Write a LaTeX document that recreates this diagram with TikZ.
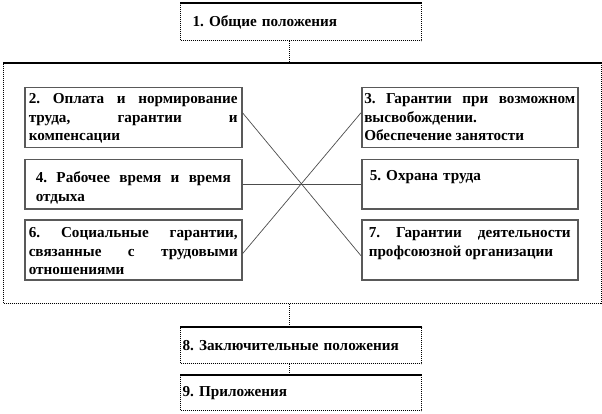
\documentclass[tikz,border=0pt]{standalone}
\usepackage{fontspec}
\setmainfont{Liberation Serif}
\usepackage{tikz}
\usetikzlibrary{positioning, calc}
\frenchspacing

\tikzset{
  txt/.style={font=\fontsize{15.2}{18.5}\selectfont\bfseries},
  outer/.style={txt, draw=black, line width=1.2pt, dash pattern=on 1pt off 1pt,
                anchor=north west, inner ysep=0pt, align=left},
  part/.style={txt, draw=black!65, line width=1.5pt, anchor=north west,
               inner ysep=4pt, minimum width=217pt},
  link/.style={line width=0.8pt, dash pattern=on 1pt off 1pt},
  cross/.style={draw=black!70, line width=0.7pt},
}

\begin{document}
\begin{tikzpicture}[x=1pt,y=-1pt]
\useasboundingbox (0,0) rectangle (602,414);

% --- TOP ---
\node[outer, minimum width=241pt, minimum height=37pt, text width=217pt,
      inner xsep=12pt] (b1) at (180,3) {1. Общие положения};

% --- FRAME ---
\node[outer, minimum width=598pt, minimum height=240pt] (frame) at (3,63) {};

% --- LEFT COLUMN ---
\node[part, text width=209pt, inner xsep=4pt, text height=12pt, text depth=40pt,
      align=justify] (b2) at (24,87)
  {2. Оплата и нормирование\linebreak труда, гарантии и\linebreak компенсации};
\node[part, text width=195pt, inner xsep=11pt, text height=19pt, text depth=22pt,
      align=justify] (b4) at (24,159)
  {4. Рабочее время и время\linebreak отдыха};
\node[part, text width=209pt, inner xsep=4pt, text height=14pt, text depth=38pt,
      align=justify] (b6) at (24,219)
  {6. Социальные гарантии,\linebreak связанные с трудовыми\linebreak отношениями};

% --- RIGHT COLUMN ---
\node[part, minimum width=216pt, text width=211pt, inner xsep=2.5pt, text height=12pt,
      text depth=40pt, align=justify] (b3) at (361,87)
  {3. Гарантии при возможном\linebreak высвобождении.\\ Обеспечение занятости};
\node[part, minimum width=216pt, text width=200pt, inner xsep=8pt, text height=17pt,
      text depth=24pt, align=left] (b5) at (361,159)
  {5. Охрана труда};
\node[part, minimum width=216pt, text width=202pt, inner xsep=7pt, text height=14pt,
      text depth=38pt, align=justify] (b7) at (361,219)
  {7. Гарантии деятельности\linebreak профсоюзной организации};

% --- CROSS LINES ---
\draw[cross] ([yshift=5pt]b2.east) -- ([yshift=-6pt]b7.west);
\draw[cross] ([yshift=-4pt]b6.east) -- ([yshift=5pt]b3.west);
\draw[cross] (b4.east) -- (b5.west);

% --- BOTTOM ---
\node[outer, minimum width=241pt, minimum height=36pt, text width=237pt,
      inner xsep=2pt] (b8) at (180,327) {8. Заключительные положения};
\node[outer, minimum width=241pt, minimum height=35pt, text width=237pt,
      inner xsep=2pt] (b9) at (180,375) {9. Приложения};

% --- SOLID TOP EDGES ---
\foreach \n in {b1,frame,b8,b9} {
  \draw[line width=1.4pt] (\n.north west) -- (\n.north east);
}

% --- CONNECTORS ---
\coordinate (up) at ([xshift=109pt]b1.south west);
\coordinate (dn) at ([xshift=109pt]b8.north west);
\draw[link] (up) -- (up |- frame.north);
\draw[link] (frame.south -| dn) -- (dn);
\draw[link] (b8.south -| dn) -- (b9.north -| dn);
\end{tikzpicture}
\end{document}
